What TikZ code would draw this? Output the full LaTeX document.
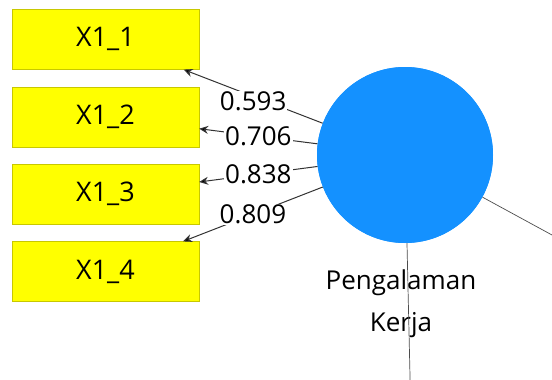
\documentclass[tikz,border=0pt]{standalone}
\usepackage{fontspec}
\setmainfont{Open Sans}
\usetikzlibrary{matrix,arrows.meta}
\definecolor{lvblue}{RGB}{20,145,255}
\definecolor{mvyellow}{RGB}{255,255,0}
\definecolor{mvedge}{RGB}{200,200,0}
\tikzset{
  indicator/.style={draw=mvedge,fill=mvyellow,minimum width=187pt,minimum height=60pt,inner sep=0pt,font=\fontsize{27}{30}\selectfont},
  latent/.style={circle,fill=lvblue,minimum size=176pt,inner sep=0pt},
  loading/.style={fill=white,inner sep=1pt,font=\fontsize{26}{29}\selectfont},
}

\begin{document}
\begin{tikzpicture}[x=1pt,y=-1pt]
  \clip (0,0) rectangle (552,380);
  \useasboundingbox (0,0) rectangle (552,380);
  \matrix (m) at (105.5,155.5) [matrix of nodes,row sep=17pt,nodes={indicator}]
  {
     X1\_1 \\
     X1\_2 \\
     X1\_3 \\
     X1\_4 \\};
  \node[latent] (pk) at (405,155) {};
  \node[align=center,font=\fontsize{26}{42}\selectfont] (pklabel) at (401,304) {Pengalaman\\Kerja};
  \coordinate (out1) at (620,272);
  \coordinate (out2) at (411,420);
  \path[draw=black!70,line width=0.7pt]
    (pk) edge (out1)
    (pk) edge (out2);
  \path[-{Stealth[length=9pt,width=8pt]},draw=black!80,line width=1pt]
    (pk) edge node [loading,yshift=-5pt] {0.593} (m-1-1)
    (pk) edge node [loading] {0.706} (m-2-1)
    (pk) edge node [loading] {0.838} (m-3-1)
    (pk) edge node [loading] {0.809} (m-4-1);
  \node[latent] at (pk) {};
\end{tikzpicture}
\end{document}
